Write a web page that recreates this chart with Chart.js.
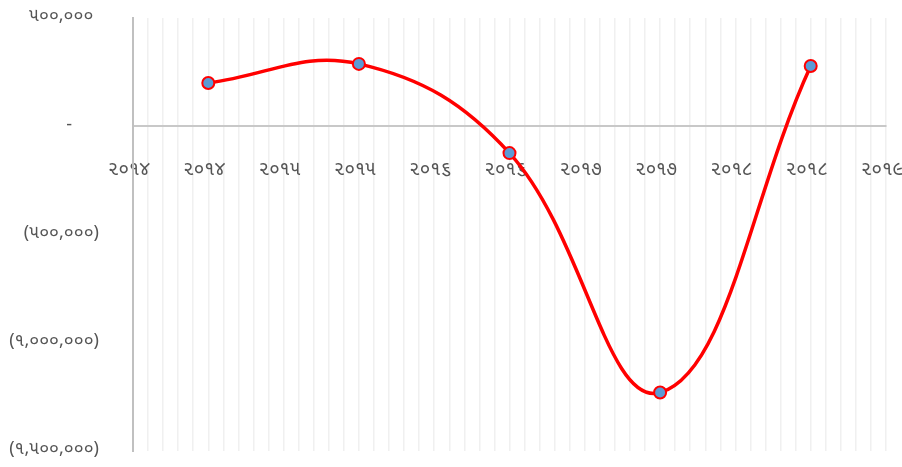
<!DOCTYPE html>
<html>
<head>
<meta charset="utf-8">
<script src="https://cdn.jsdelivr.net/npm/chart.js"></script>
<style>
  html, body {
    margin: 0;
    padding: 0;
    background: #ffffff;
  }
  #wrap {
    width: 902px;
    height: 467px;
  }
</style>
</head>
<body>
<div id="wrap">
  <canvas id="chart" width="902" height="467"></canvas>
</div>
<script>
  // yearly values, plotted at the middle of each year
  const years = [2014, 2015, 2016, 2017, 2018];
  const yearPositions = [2014.5, 2015.5, 2016.5, 2017.5, 2018.5];
  const values = [200000, 288000, -124000, -1230000, 278000];

  // axis ranges / ticks
  const xStart = 2014;
  const xEnd = 2019;
  const xGridStep = 0.1;
  const yMin = -1500000;
  const yMax = 500000;
  const yStep = 500000;

  const fontFamily = '"Noto Sans Gujarati", "Lohit Gujarati", "Noto Sans", sans-serif';

  // western digits -> gujarati digits
  function toGujarati(s) {
    return String(s).replace(/[0-9]/g, d => String.fromCharCode(0x0AE6 + Number(d)));
  }

  // accounting style: 500,000 / - / (500,000)
  function accounting(v) {
    if (v === 0) return '-\u2002\u2002\u2002';
    const txt = toGujarati(Math.abs(v).toLocaleString('en-US'));
    return v < 0 ? '(' + txt + ')' : txt + '\u2005\u200A';
  }

  const points = yearPositions.map((x, i) => ({ x: x, y: values[i] }));

  new Chart(document.getElementById('chart'), {
    type: 'line',
    data: {
      datasets: [{
        data: points,
        borderColor: '#ff0000',
        borderWidth: 3.5,
        tension: 0.4,
        pointRadius: 6,
        pointBorderWidth: 2,
        pointBackgroundColor: '#5b9bd5',
        pointBorderColor: '#ff0000',
        fill: false
      }]
    },
    options: {
      responsive: false,
      animation: false,
      layout: {
        padding: { top: 18, right: 16, bottom: 16, left: 0 }
      },
      plugins: {
        legend: { display: false },
        tooltip: { enabled: false }
      },
      scales: {
        x: {
          type: 'linear',
          position: { y: 0 },
          min: xStart,
          max: xEnd,
          // labels overflow the edges a bit, don't let them shrink the plot
          afterFit: function (scale) {
            scale.paddingLeft = 0;
            scale.paddingRight = 0;
          },
          grid: {
            color: '#f0f0f0',
            lineWidth: 1.5,
            drawTicks: true,
            tickLength: 34,
            tickColor: 'rgba(0,0,0,0)'
          },
          border: { color: '#c8c8c8', width: 2 },
          ticks: {
            stepSize: xGridStep,
            autoSkip: false,
            maxRotation: 0,
            padding: 0,
            labelOffset: -4,
            color: '#555555',
            font: { family: fontFamily, size: 19 },
            callback: function (v) {
              const n = Math.round(v * 10);
              if (n % 5 !== 0) return '';
              return toGujarati(Math.floor(n / 10));
            }
          }
        },
        y: {
          min: yMin,
          max: yMax,
          afterFit: function (scale) { scale.width = 133; },
          grid: { display: false, drawTicks: true, tickLength: 34 },
          border: { color: '#c0c0c0', width: 2 },
          ticks: {
            stepSize: yStep,
            padding: 0,
            color: '#555555',
            font: { family: fontFamily, size: 18 },
            callback: function (v) { return accounting(v); }
          }
        }
      }
    }
  });
</script>
</body>
</html>
